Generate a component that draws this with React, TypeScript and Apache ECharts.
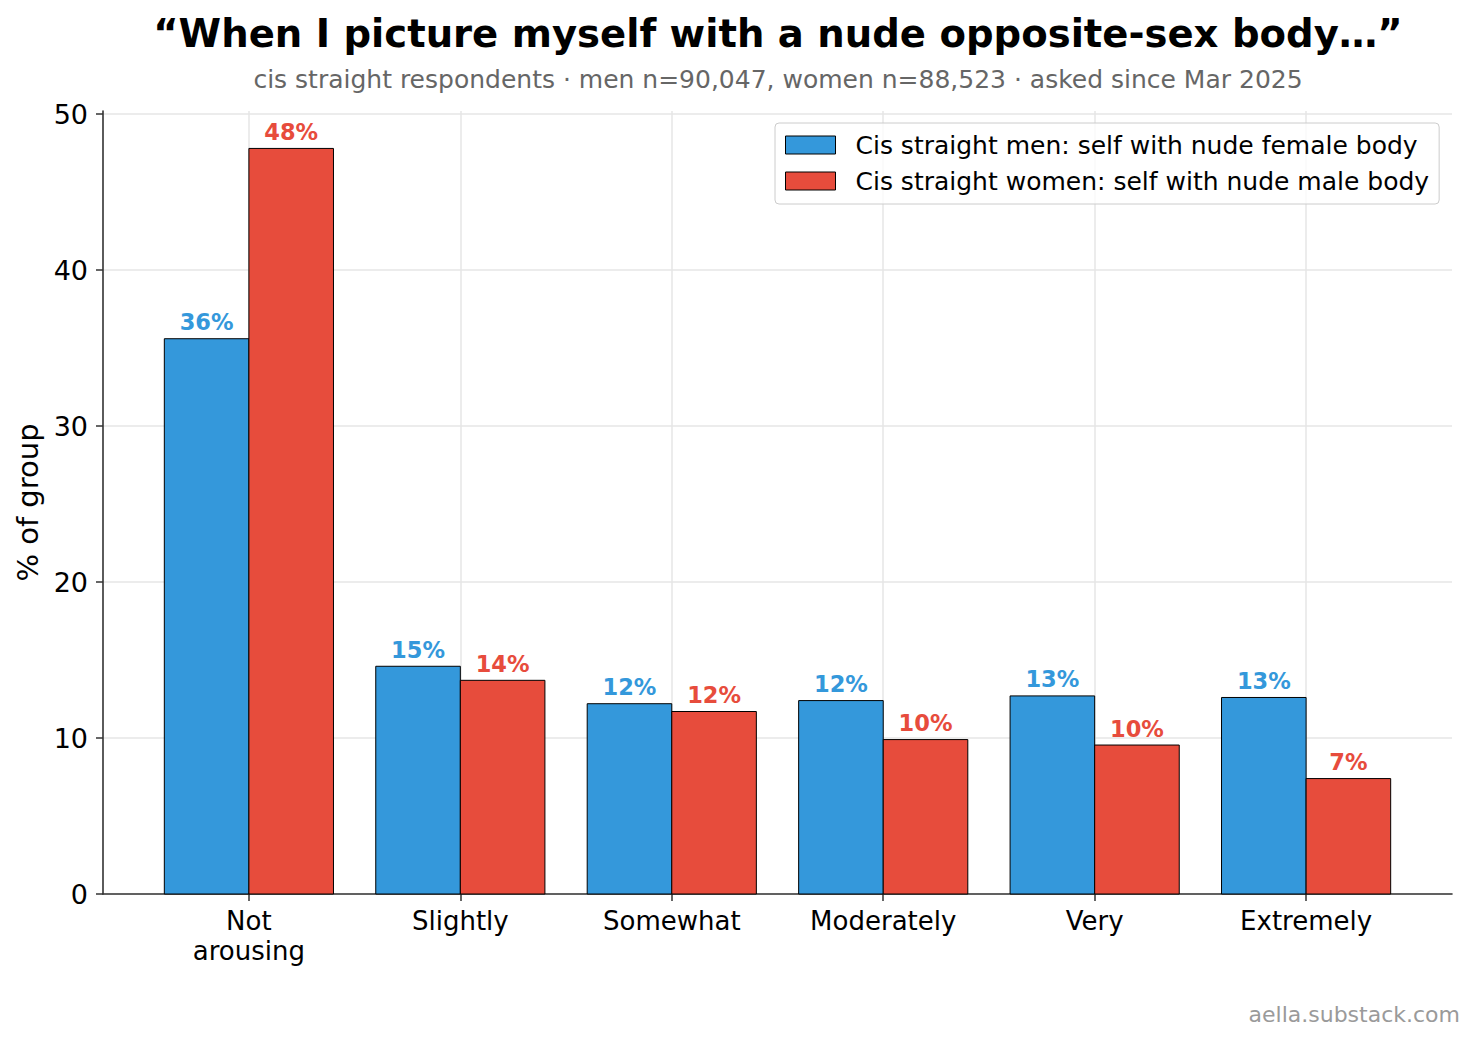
import React, { useEffect, useRef } from "react";
import * as echarts from "echarts";

// Response categories and each group's share (% of group)
const categories = ["Not\narousing", "Slightly", "Somewhat", "Moderately", "Very", "Extremely"];
const menValues = [35.6, 14.6, 12.2, 12.4, 12.7, 12.6];
const womenValues = [47.8, 13.7, 11.7, 9.9, 9.55, 7.4];
const yTicks = [0, 10, 20, 30, 40, 50];
const xTicks = [0, 1, 2, 3, 4, 5];

const seriesNames = [
  "Cis straight men: self with nude female body",
  "Cis straight women: self with nude male body",
];
const seriesColors = ["#3498db", "#e74c3c"];

const titleText = "\u201CWhen I picture myself with a nude opposite-sex body\u2026\u201D";
const subtitleText =
  "cis straight respondents \u00B7 men n=90,047, women n=88,523 \u00B7 asked since Mar 2025";
const creditText = "aella.substack.com";
const yAxisName = "% of group";

const FONT = "'DejaVu Sans', 'Liberation Sans', sans-serif";
const BAR_W = 0.4;
const AXIS_COLOR = "#333333";
const GRID_COLOR = "#e6e6e6";

function barSeries(idx: number, values: number[]) {
  const color = seriesColors[idx];
  return {
    type: "custom",
    name: seriesNames[idx],
    itemStyle: { color, borderColor: "#000", borderWidth: 1 },
    encode: { x: 0, y: 1 },
    data: values.map((v, i) => [i, v]),
    renderItem: (_params: any, api: any) => {
      const i = api.value(0);
      const v = api.value(1);
      const left = i - BAR_W + idx * BAR_W;
      const tl = api.coord([left, v]);
      const br = api.coord([left + BAR_W, 0]);
      return {
        type: "group",
        children: [
          {
            type: "rect",
            shape: { x: tl[0], y: tl[1], width: br[0] - tl[0], height: br[1] - tl[1] },
            style: { fill: color, stroke: "#000", lineWidth: 1 },
          },
          {
            type: "text",
            style: {
              x: (tl[0] + br[0]) / 2,
              y: tl[1] - 5,
              text: Math.round(v) + "%",
              fill: color,
              fontSize: 22.5,
              fontWeight: "bold",
              fontFamily: FONT,
              align: "center",
              verticalAlign: "bottom",
            },
          },
        ],
      };
    },
  };
}

export default function App() {
  const ref = useRef<HTMLDivElement>(null);

  useEffect(() => {
    if (!ref.current) return;
    const chart = echarts.init(ref.current, null, { renderer: "svg" });
    chart.setOption({
      animation: false,
      backgroundColor: "#ffffff",
      textStyle: { fontFamily: FONT },
      title: {
        text: titleText,
        subtext: subtitleText,
        left: 773,
        textAlign: "center",
        top: 9,
        itemGap: 14,
        textStyle: { fontSize: 38.6, fontWeight: "bold", fontFamily: FONT, color: "#000" },
        subtextStyle: { fontSize: 25, fontFamily: FONT, color: "#666666" },
      },
      legend: {
        orient: "vertical",
        left: 775,
        top: 123,
        padding: [9.5, 10, 10.5, 10],
        itemWidth: 50,
        itemHeight: 18,
        itemGap: 11,
        icon: "rect",
        backgroundColor: "rgba(255,255,255,0.8)",
        borderColor: "#cccccc",
        borderWidth: 1,
        borderRadius: 4,
        itemStyle: { borderColor: "#000", borderWidth: 1 },
        textStyle: { fontSize: 25, fontFamily: FONT, color: "#000", padding: [0, 0, 0, 15] },
        data: seriesNames,
      },
      grid: { left: 103, right: 24, top: 111, bottom: 145 },
      xAxis: {
        type: "value",
        min: -0.69,
        max: 5.69,
        axisLine: { show: true, onZero: false, lineStyle: { color: AXIS_COLOR, width: 1.6 } },
        axisTick: {
          show: true,
          customValues: xTicks,
          length: 7,
          lineStyle: { color: AXIS_COLOR, width: 1.5 },
        },
        axisLabel: {
          customValues: xTicks,
          formatter: (v: number) => categories[Math.round(v)],
          fontSize: 26,
          lineHeight: 30,
          color: "#000",
          fontFamily: FONT,
          margin: 12,
        },
        splitLine: { show: true, lineStyle: { color: GRID_COLOR, width: 1.5 } },
      },
      yAxis: {
        type: "value",
        min: 0,
        max: 50.2,
        name: yAxisName,
        nameLocation: "middle",
        nameGap: 61,
        nameTextStyle: { fontSize: 29, fontFamily: FONT, color: "#000" },
        axisLine: { show: true, onZero: false, lineStyle: { color: AXIS_COLOR, width: 1.6 } },
        axisTick: {
          show: true,
          customValues: yTicks,
          length: 7,
          lineStyle: { color: AXIS_COLOR, width: 1.5 },
        },
        axisLabel: {
          customValues: yTicks,
          fontSize: 27,
          color: "#000",
          fontFamily: FONT,
          margin: 15,
        },
        splitLine: { show: true, lineStyle: { color: GRID_COLOR, width: 1.5 } },
      },
      graphic: [
        {
          type: "text",
          right: 16,
          bottom: 14,
          style: { text: creditText, fontSize: 22, fontFamily: FONT, fill: "#9a9a9a" },
        },
      ],
      series: [barSeries(0, menValues), barSeries(1, womenValues)],
    });
    return () => chart.dispose();
  }, []);

  return (
    <div
      ref={ref}
      style={{ position: "fixed", left: 0, top: 0, width: 1476, height: 1039 }}
    />
  );
}
